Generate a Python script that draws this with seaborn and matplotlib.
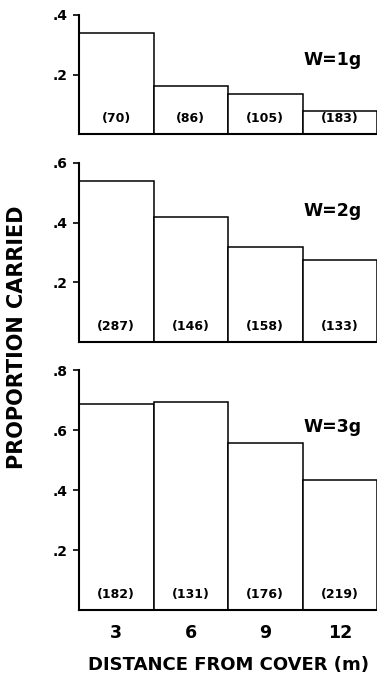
import matplotlib
matplotlib.use("Agg")
import matplotlib.pyplot as plt
import seaborn as sns
import pandas as pd
from matplotlib.ticker import FuncFormatter

# data
distances = ["3", "6", "9", "12"]
weights = ["W=1g", "W=2g", "W=3g"]
prop_1g = [0.339, 0.163, 0.136, 0.077]
prop_2g = [0.539, 0.419, 0.319, 0.275]
prop_3g = [0.686, 0.694, 0.556, 0.433]
n_1g = [70, 86, 105, 183]
n_2g = [287, 146, 158, 133]
n_3g = [182, 131, 176, 219]
ymax = [0.4, 0.6, 0.8]

props = [prop_1g, prop_2g, prop_3g]
counts = [n_1g, n_2g, n_3g]

sns.set_style("ticks", {"axes.edgecolor": "black", "text.color": "black",
                        "axes.labelcolor": "black",
                        "xtick.color": "black", "ytick.color": "black"})
plt.rcParams["font.family"] = ["DejaVu Sans"]
plt.rcParams["font.weight"] = "bold"

W, H = 377, 679
fig = plt.figure(figsize=(W / 100, H / 100), dpi=100)

# panel boxes in pixels: (top, bottom)
boxes = [(15, 134), (163, 342), (370, 610)]
left, right = 79, 377
label_y = [0.62, 0.73, 0.764]

axes = []
for k, (top, bot) in enumerate(boxes):
    ax = fig.add_axes([left / W, 1 - bot / H, (right - left) / W, (bot - top) / H])
    df = pd.DataFrame({"distance": distances, "prop": props[k]})
    sns.barplot(data=df, x="distance", y="prop", order=distances, color="white",
                edgecolor="black", linewidth=1.1, width=1, saturation=1, ax=ax)
    ax.set_xlim(-0.5, 3.5)
    ax.set_ylim(0, ymax[k])
    ax.set_yticks([t / 10 for t in range(2, int(round(ymax[k] * 10)) + 1, 2)])
    ax.yaxis.set_major_formatter(FuncFormatter(lambda v, p: f"{v:.1f}".lstrip("0")))
    ax.tick_params(axis="y", length=4, width=1.2, pad=4, labelsize=10)
    ax.tick_params(axis="x", length=0, pad=10, labelsize=12.5)
    for s in ["top", "right"]:
        ax.spines[s].set_visible(False)
    ax.spines["left"].set_linewidth(1.5)
    ax.spines["bottom"].set_linewidth(1.5)
    ax.set_xlabel("")
    ax.set_ylabel("")
    for i, n in enumerate(counts[k]):
        ax.annotate(f"({n})", xy=(i, 0), xytext=(0, 11), textcoords="offset points",
                    ha="center", va="center", fontsize=9, fontweight="bold")
    ax.text(0.852, label_y[k], weights[k], transform=ax.transAxes, ha="center",
            va="center", fontsize=12.5, fontweight="bold")
    if k < 2:
        ax.set_xticklabels([])
    axes.append(ax)

axes[2].set_xlabel("DISTANCE FROM COVER (m)", fontsize=13, fontweight="bold", labelpad=10)
fig.text(17.5 / W, 1 - 337 / H, "PROPORTION CARRIED", rotation=90, ha="center",
         va="center", fontsize=15, fontweight="bold")

fig.savefig("out.png", dpi=100)
